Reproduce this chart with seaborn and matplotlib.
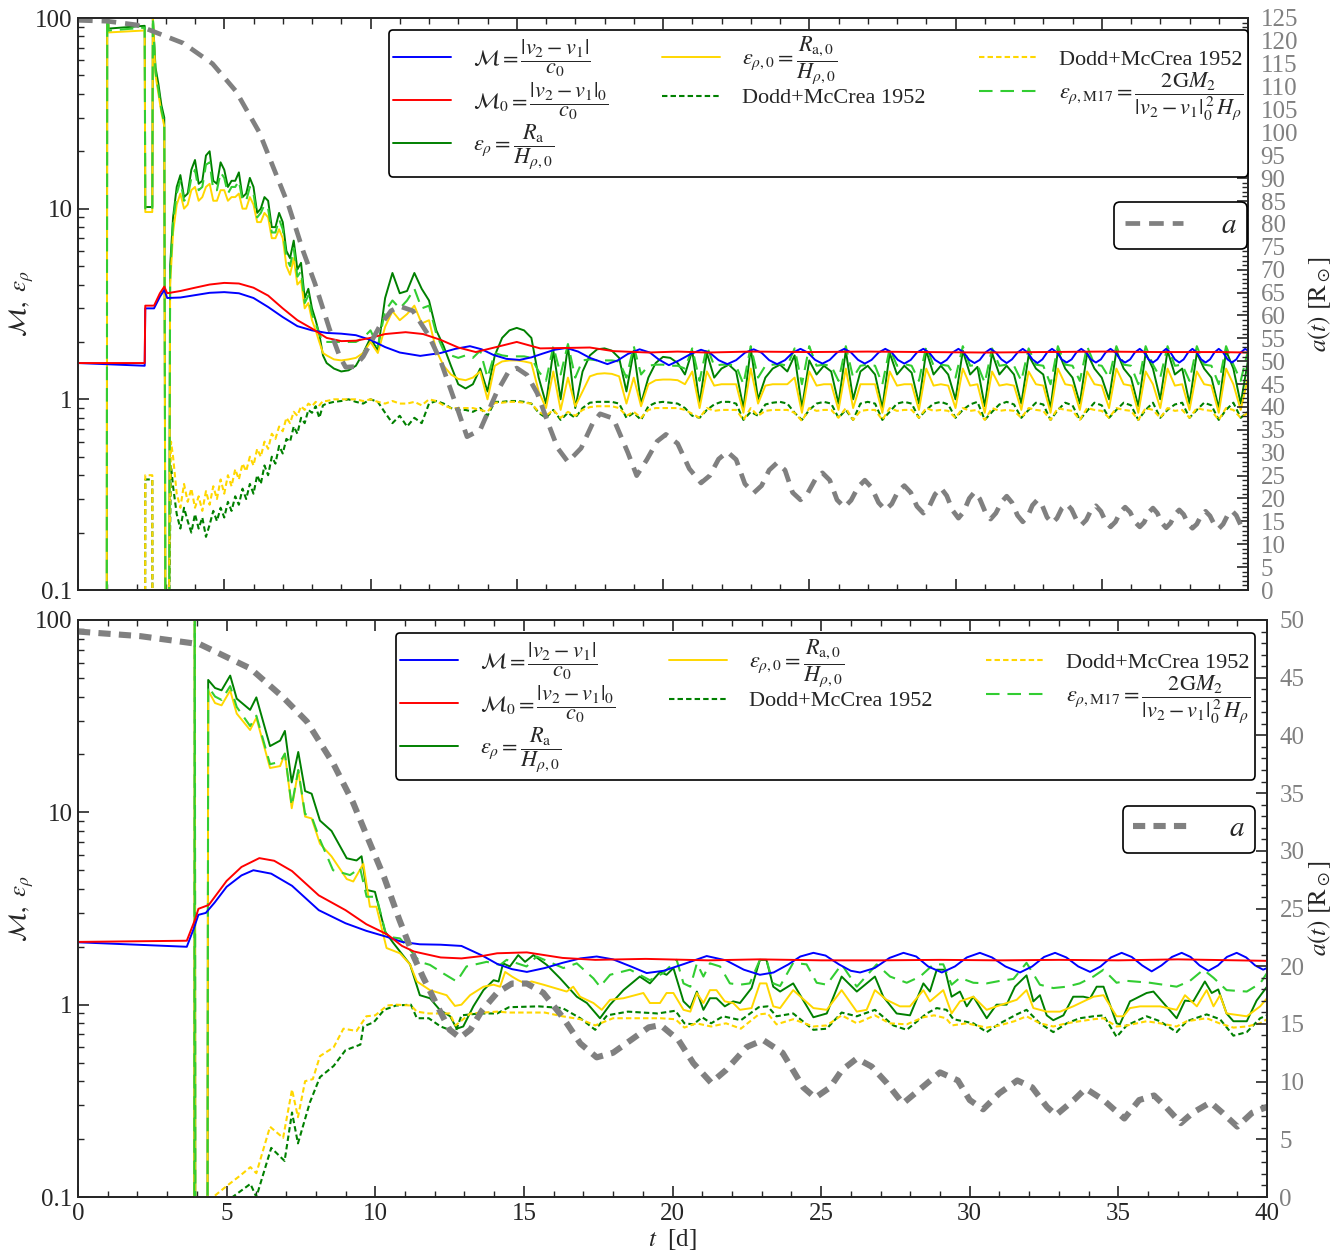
import numpy as np
import matplotlib
matplotlib.use("Agg")
import matplotlib.pyplot as plt
import seaborn as sns
from matplotlib.lines import Line2D
from matplotlib.ticker import MultipleLocator, LogLocator, NullFormatter

# ======================= DATA : TOP PANEL =======================
M_top_pts = [(0, 1.55), (2.28, 1.5), (2.3, 3.0), (2.6, 3.0), (2.8, 3.45), (2.95, 3.75), (3.05, 3.4),
             (3.5, 3.42), (4.0, 3.52), (4.5, 3.62), (5.0, 3.65), (5.5, 3.6), (6.0, 3.4), (6.5, 3.05),
             (7.0, 2.7), (7.5, 2.42), (8.0, 2.3), (8.5, 2.23), (9.0, 2.21), (9.5, 2.17), (10.0, 2.05),
             (10.5, 1.88), (11.0, 1.76), (11.7, 1.69), (12.4, 1.75), (12.9, 1.84), (13.4, 1.9),
             (13.8, 1.83), (14.2, 1.71), (14.65, 1.63), (15.1, 1.61), (15.5, 1.66), (15.9, 1.74),
             (16.3, 1.82), (16.7, 1.86), (17.1, 1.78), (17.5, 1.65), (18.1, 1.53), (18.45, 1.6),
             (18.8, 1.73), (19.2, 1.83), (19.55, 1.76), (19.85, 1.62), (20.2, 1.51), (20.55, 1.6),
             (20.95, 1.73), (21.3, 1.82),
             (21.6, 1.755), (21.9, 1.605), (22.2, 1.53), (22.5, 1.605), (22.8, 1.755), (23.1, 1.83),
             (23.37, 1.755), (23.63, 1.605), (23.9, 1.53), (24.17, 1.605), (24.43, 1.755), (24.7, 1.84),
             (24.95, 1.76), (25.2, 1.61), (25.45, 1.54), (25.7, 1.61), (25.95, 1.76), (26.2, 1.84),
             (26.43, 1.76), (26.67, 1.61), (26.9, 1.54), (27.13, 1.61), (27.37, 1.76), (27.6, 1.84),
             (27.82, 1.76), (28.03, 1.61), (28.25, 1.54), (28.47, 1.61), (28.68, 1.76), (28.9, 1.84),
             (29.1, 1.76), (29.3, 1.61), (29.5, 1.54), (29.7, 1.61), (29.9, 1.76), (30.1, 1.84),
             (30.28, 1.76), (30.47, 1.61), (30.65, 1.55), (30.83, 1.61), (31.02, 1.76), (31.2, 1.84),
             (31.38, 1.76), (31.57, 1.62), (31.75, 1.55), (31.93, 1.62), (32.12, 1.76), (32.3, 1.84),
             (32.47, 1.76), (32.63, 1.62), (32.8, 1.55), (32.97, 1.62), (33.13, 1.76), (33.3, 1.84),
             (33.47, 1.76), (33.63, 1.62), (33.8, 1.56), (33.97, 1.62), (34.13, 1.76), (34.3, 1.84),
             (34.47, 1.76), (34.63, 1.62), (34.8, 1.56), (34.97, 1.62), (35.13, 1.76), (35.3, 1.84),
             (35.47, 1.76), (35.63, 1.62), (35.8, 1.56), (35.97, 1.62), (36.13, 1.76), (36.3, 1.84),
             (36.45, 1.76), (36.6, 1.62), (36.75, 1.56), (36.9, 1.62), (37.05, 1.76), (37.2, 1.84),
             (37.35, 1.76), (37.5, 1.62), (37.65, 1.56), (37.8, 1.62), (37.95, 1.76), (38.1, 1.84),
             (38.25, 1.76), (38.4, 1.62), (38.55, 1.56), (38.7, 1.62), (38.85, 1.76), (39.0, 1.84),
             (39.15, 1.76), (39.3, 1.62), (39.45, 1.56), (39.6, 1.62), (39.75, 1.76), (39.9, 1.84),
             (40.0, 1.8)]
M0_top_pts = [(0, 1.55), (2.28, 1.55), (2.3, 3.1), (2.6, 3.1), (2.8, 3.6), (2.95, 3.9), (3.05, 3.6),
              (3.5, 3.7), (4.0, 3.85), (4.5, 4.0), (5.0, 4.08), (5.5, 4.05), (6.0, 3.85), (6.5, 3.5),
              (7.0, 3.0), (7.5, 2.6), (8.0, 2.35), (8.5, 2.1), (9.0, 2.02), (9.5, 2.03), (10.0, 2.1),
              (10.5, 2.2), (11.2, 2.25), (11.8, 2.2), (12.4, 2.05), (13.0, 1.87), (13.6, 1.77),
              (14.3, 1.88), (15.0, 2.0), (15.8, 1.85), (16.7, 1.86), (17.5, 1.87), (18.3, 1.79),
              (19.5, 1.76), (20.5, 1.78), (21.5, 1.76), (23, 1.78), (25, 1.77), (27, 1.78), (29, 1.77),
              (31, 1.76), (33, 1.77), (35, 1.78), (37, 1.77), (39, 1.77), (40, 1.76)]

# eps-type curves: early part (irregular times), dense part (0.125 d from 3.25 d),
# regular part (0.25 d from 8.5 d to 40 d)
eps_pre_t = [0, 0.98, 1.0, 1.04, 2.28, 2.30, 2.54, 2.56, 2.65, 2.75, 2.85, 2.95, 3.0, 3.1, 3.15]
eps_top_pre = [0.01, 0.01, 200, 88, 91, 10.2, 10.2, 100, 55, 45, 35, 30, 0.01, 0.01, 5]
eps0_top_pre = [0.01, 0.01, 200, 84, 86, 9.6, 9.6, 100, 50, 40, 32, 27, 0.01, 0.01, 4]
m17_top_pre = [0.01, 0.01, 200, 86, 89, 9.9, 9.9, 100, 52, 42, 33, 28, 0.01, 0.01, 4.5]
dodd_pre_t = [0, 2.29, 2.30, 2.54, 2.55, 3.0, 3.1, 3.18]
doddg_top_pre = [0.01, 0.01, 0.38, 0.38, 0.01, 0.01, 0.06, 0.45]
doddy_top_pre = [0.01, 0.01, 0.4, 0.4, 0.01, 0.01, 0.08, 0.6]

dense_start, dense_step = 3.25, 0.125
eps_top_d = [9, 13, 15, 11.5, 12, 16, 18, 13.5, 14, 19, 20, 14, 13.5, 17.5, 16, 13, 14, 14, 15.5, 11.5,
             12, 14.5, 13, 9.5, 10, 11.5, 11, 8, 8, 9.5, 8.5, 6, 5.5, 6.8, 4.8, 5.2, 3.4, 3.8, 3.0, 2.6,
             2.2, 1.7]
eps0_top_d = [7.5, 10.5, 12, 10, 10.5, 12.5, 13, 11, 11.5, 13, 13.5, 11, 11, 12.5, 12.5, 11, 11.5, 11.5, 12, 10,
              10, 11.5, 10.5, 8.5, 8.5, 9.5, 9, 7, 7, 7.8, 7, 5, 4.5, 5.5, 4.0, 4.2, 3.0, 3.2, 2.6, 2.3,
              2.0, 1.75]
m17_top_d = [8.5, 12, 14, 11, 11.5, 14.5, 16, 12.5, 13, 17, 17.5, 12.5, 12.5, 15.5, 14.5, 12, 13, 13, 14, 11,
             11, 13, 12, 9, 9.5, 10.5, 10, 7.5, 7.5, 8.8, 7.8, 5.5, 5.0, 6.2, 4.4, 4.7, 3.2, 3.5, 2.8, 2.5,
             2.2, 2.0]
doddg_top_d = [0.35, 0.25, 0.21, 0.27, 0.23, 0.2, 0.25, 0.21, 0.24, 0.19, 0.22, 0.26, 0.23, 0.27, 0.24, 0.29,
               0.26, 0.31, 0.28, 0.34, 0.3, 0.36, 0.32, 0.4, 0.36, 0.45, 0.4, 0.5, 0.46, 0.57, 0.52, 0.62,
               0.6, 0.72, 0.66, 0.8, 0.75, 0.88, 0.85, 0.92, 0.8, 0.93]
doddy_top_d = [0.5, 0.32, 0.27, 0.36, 0.29, 0.34, 0.27, 0.31, 0.26, 0.33, 0.28, 0.35, 0.3, 0.38, 0.32, 0.4,
               0.35, 0.43, 0.38, 0.46, 0.42, 0.5, 0.45, 0.55, 0.5, 0.6, 0.55, 0.66, 0.62, 0.72, 0.68, 0.8,
               0.75, 0.86, 0.82, 0.92, 0.88, 0.95, 0.92, 0.97, 0.93, 0.98]

grid_start, grid_step = 8.5, 0.25
eps_top = [1.55, 1.45, 1.40,
           1.42, 1.5, 1.75, 2.1, 1.8, 3.4, 4.6, 3.6,
           3.7, 4.6, 3.8, 3.3, 2.3, 1.9, 1.5, 1.2,
           1.14, 1.2, 1.45, 1.1, 1.7, 2.1, 2.3, 2.37,
           2.3, 2.1, 1.3, 0.95, 1.8, 1.0, 1.9, 0.9,
           1.4, 1.7, 1.83, 1.85, 1.8, 1.65, 1.1, 1.8,
           0.95, 1.3, 1.55, 1.67, 1.65, 1.55, 1.35, 1.8,
           0.95, 1.75, 1.3, 1.45, 1.52, 1.4, 0.9, 1.85,
           1.0, 1.3, 1.45, 1.52, 1.4, 1.7, 0.9, 1.6,
           1.35, 1.5, 1.4, 0.95, 1.8, 1.0, 1.4, 1.5,
           1.35, 0.9, 1.75, 1.35, 1.5, 1.38, 0.95, 1.8,
           1.35, 1.5, 1.35, 1.0, 1.8, 1.35, 1.48, 0.92,
           1.75, 1.35, 1.5, 1.35, 0.95, 1.7, 1.45, 1.35,
           0.9, 1.8, 1.45, 1.3, 0.95, 1.75, 1.45, 1.3,
           1.0, 1.8, 1.45, 1.3, 0.92, 1.75, 1.45, 1.0,
           1.8, 1.35, 1.45, 0.95, 1.75, 1.45, 1.3, 0.9,
           1.8, 1.45, 0.95, 1.6]
eps0_top = [1.7, 1.62, 1.6,
            1.62, 1.65, 1.75, 2.0, 1.75, 2.4, 2.9, 2.6,
            2.8, 3.1, 2.5, 2.6, 1.8, 1.5, 1.35, 1.28,
            1.26, 1.3, 1.4, 1.0, 1.5, 1.58, 1.6, 1.6,
            1.58, 1.55, 1.1, 0.9, 1.4, 0.88, 1.3, 0.92,
            1.1, 1.32, 1.36, 1.37, 1.36, 1.32, 0.95, 1.3,
            0.92, 1.2, 1.26, 1.27, 1.27, 1.26, 1.2, 1.4,
            0.9, 1.4, 1.18, 1.2, 1.2, 1.2, 0.85, 1.45,
            0.95, 1.18, 1.2, 1.2, 1.2, 1.3, 0.85, 1.4,
            1.18, 1.2, 1.2, 0.88, 1.45, 0.9, 1.2, 1.2,
            1.2, 0.85, 1.4, 1.18, 1.2, 1.2, 0.88, 1.45,
            1.18, 1.2, 1.18, 0.9, 1.45, 1.18, 1.2, 0.85,
            1.4, 1.18, 1.2, 1.18, 0.88, 1.4, 1.2, 1.18,
            0.85, 1.45, 1.2, 1.18, 0.88, 1.4, 1.2, 1.18,
            0.9, 1.45, 1.2, 1.18, 0.85, 1.4, 1.2, 0.9,
            1.45, 1.18, 1.2, 0.88, 1.4, 1.2, 1.18, 0.85,
            1.45, 1.2, 0.88, 1.3]
m17_top = [2.0, 2.0, 2.0,
           2.0, 2.0, 2.1, 2.3, 1.9, 2.9, 3.3, 3.0,
           3.3, 3.8, 3.0, 3.1, 2.2, 1.8, 1.7, 1.65,
           1.7, 1.65, 1.8, 1.3, 1.75, 1.7, 1.68, 1.68,
           1.68, 1.65, 1.4, 1.25, 1.9, 1.35, 1.95, 1.3,
           1.6, 1.62, 1.6, 1.6, 1.6, 1.58, 1.3, 1.9,
           1.35, 1.5, 1.52, 1.52, 1.5, 1.5, 1.45, 1.85,
           1.25, 1.9, 1.5, 1.52, 1.52, 1.5, 1.2, 1.9,
           1.3, 1.5, 1.52, 1.53, 1.5, 1.85, 1.2, 1.9,
           1.5, 1.52, 1.5, 1.25, 1.9, 1.3, 1.5, 1.52,
           1.5, 1.2, 1.85, 1.5, 1.53, 1.5, 1.25, 1.9,
           1.5, 1.52, 1.5, 1.3, 1.9, 1.5, 1.52, 1.22,
           1.85, 1.5, 1.52, 1.5, 1.25, 1.85, 1.52, 1.5,
           1.2, 1.9, 1.52, 1.5, 1.25, 1.9, 1.52, 1.5,
           1.3, 1.9, 1.52, 1.5, 1.2, 1.9, 1.52, 1.3,
           1.9, 1.5, 1.52, 1.25, 1.9, 1.52, 1.5, 1.2,
           1.9, 1.52, 1.25, 1.8]
doddg_top = [0.95, 0.97, 0.98,
             1.0, 0.97, 0.95, 1.0, 0.97, 0.85, 0.75, 0.82,
             0.72, 0.8, 0.75, 0.95, 0.98, 0.95, 0.9, 0.88,
             0.88, 0.86, 0.9, 0.82, 0.97, 0.97, 0.98, 0.98,
             0.97, 0.95, 0.85, 0.8, 0.88, 0.78, 0.85, 0.8,
             0.9, 0.96, 0.97, 0.97, 0.97, 0.95, 0.8, 0.85,
             0.78, 0.92, 0.96, 0.97, 0.96, 0.95, 0.9, 0.82,
             0.8, 0.88, 0.94, 0.97, 0.97, 0.95, 0.78, 0.86,
             0.82, 0.94, 0.96, 0.97, 0.95, 0.85, 0.78, 0.88,
             0.95, 0.97, 0.95, 0.8, 0.88, 0.78, 0.95, 0.97,
             0.95, 0.78, 0.86, 0.95, 0.97, 0.95, 0.8, 0.88,
             0.95, 0.97, 0.94, 0.8, 0.88, 0.94, 0.97, 0.78,
             0.86, 0.94, 0.97, 0.94, 0.8, 0.88, 0.96, 0.94,
             0.78, 0.88, 0.96, 0.93, 0.78, 0.87, 0.96, 0.93,
             0.8, 0.88, 0.96, 0.93, 0.78, 0.88, 0.96, 0.8,
             0.88, 0.94, 0.96, 0.8, 0.88, 0.96, 0.93, 0.78,
             0.88, 0.96, 0.8, 0.86]
doddy_top = [0.98, 1.0, 1.0,
             1.0, 1.0, 0.98, 1.0, 0.97, 0.95, 0.98, 0.95,
             0.95, 0.97, 0.93, 1.0, 0.98, 0.93, 0.9, 0.9,
             0.9, 0.9, 0.88, 0.86, 0.96, 0.96, 0.97, 0.97,
             0.96, 0.95, 0.86, 0.82, 0.88, 0.8, 0.86, 0.82,
             0.88, 0.91, 0.92, 0.92, 0.92, 0.9, 0.82, 0.86,
             0.8, 0.88, 0.9, 0.9, 0.9, 0.9, 0.88, 0.84,
             0.8, 0.9, 0.87, 0.88, 0.88, 0.88, 0.78, 0.9,
             0.82, 0.87, 0.88, 0.88, 0.88, 0.85, 0.77, 0.9,
             0.87, 0.88, 0.88, 0.8, 0.9, 0.78, 0.87, 0.88,
             0.88, 0.78, 0.9, 0.87, 0.88, 0.88, 0.8, 0.9,
             0.87, 0.88, 0.87, 0.8, 0.9, 0.87, 0.88, 0.78,
             0.9, 0.87, 0.88, 0.87, 0.8, 0.9, 0.88, 0.87,
             0.78, 0.9, 0.88, 0.87, 0.78, 0.9, 0.88, 0.87,
             0.8, 0.9, 0.88, 0.87, 0.78, 0.9, 0.88, 0.8,
             0.9, 0.87, 0.88, 0.8, 0.9, 0.88, 0.87, 0.78,
             0.9, 0.88, 0.8, 0.85]

a_top_pts = [(0, 124.5), (1, 124.3), (2, 123.5), (2.6, 122), (3.6, 119.5), (4.6, 115), (5.4, 109),
             (6.2, 100), (6.7, 92), (7.2, 84), (7.7, 74), (8.1, 67), (8.6, 57), (8.95, 51), (9.15, 48.7),
             (9.45, 48.8), (9.75, 51), (10.3, 57.5), (10.7, 61), (11.0, 62), (11.45, 61), (12.0, 55.5),
             (12.4, 50), (12.95, 40), (13.3, 33.5), (13.75, 35), (14.3, 43), (14.7, 47.5), (15.0, 48.5),
             (15.35, 47), (15.7, 43), (16.1, 36), (16.4, 31), (16.75, 28), (17.2, 31), (17.6, 36.5),
             (17.85, 38.5), (18.3, 37.5), (18.8, 30), (19.1, 25), (19.45, 28.5), (19.8, 32.5),
             (20.1, 34), (20.5, 32), (20.9, 26.5), (21.3, 23.4),
             (21.6, 25.0), (21.9, 28.6), (22.2, 30.2), (22.5, 28.5), (22.8, 23.2), (23.1, 21.2),
             (23.37, 22.8), (23.63, 26.2), (23.9, 27.8), (24.17, 26.2), (24.43, 21.3), (24.7, 19.7),
             (24.95, 21.2), (25.2, 24.1), (25.45, 25.6), (25.7, 24.0), (25.95, 19.7), (26.2, 18.1),
             (26.43, 19.6), (26.67, 22.5), (26.9, 24.0), (27.13, 22.4), (27.37, 19.1), (27.6, 17.5),
             (27.82, 18.8), (28.03, 21.5), (28.25, 22.8), (28.47, 21.3), (28.68, 18.3), (28.9, 16.8),
             (29.1, 18.2), (29.3, 20.9), (29.5, 22.3), (29.7, 20.6), (29.9, 17.4), (30.1, 15.7),
             (30.28, 17.1), (30.47, 20.0), (30.65, 21.4), (30.83, 19.9), (31.02, 17.0), (31.2, 15.5),
             (31.38, 16.8), (31.57, 19.2), (31.75, 20.5), (31.93, 19.1), (32.12, 16.3), (32.3, 14.9),
             (32.47, 16.1), (32.63, 18.5), (32.8, 19.7), (32.97, 18.4), (33.13, 15.9), (33.3, 14.6),
             (33.47, 15.7), (33.63, 17.8), (33.8, 18.8), (33.97, 17.6), (34.13, 15.4), (34.3, 14.2),
             (34.47, 15.3), (34.63, 17.4), (34.8, 18.4), (34.97, 17.2), (35.13, 15.0), (35.3, 13.8),
             (35.47, 14.9), (35.63, 17.0), (35.8, 18.1), (35.97, 17.0), (36.13, 14.9), (36.3, 13.8),
             (36.45, 14.8), (36.6, 16.9), (36.75, 17.9), (36.9, 16.8), (37.05, 14.7), (37.2, 13.6),
             (37.35, 14.6), (37.5, 16.5), (37.65, 17.5), (37.8, 16.5), (37.95, 14.5), (38.1, 13.5),
             (38.25, 14.4), (38.4, 16.3), (38.55, 17.2), (38.7, 16.2), (38.85, 14.3), (39.0, 13.4),
             (39.15, 14.4), (39.3, 16.3), (39.45, 17.3), (39.6, 16.3), (39.75, 14.2), (39.9, 13.2),
             (40.0, 13.4)]

# ======================= DATA : BOTTOM PANEL =======================
M_bot_t = [0, 3.66, 3.9, 4.05, 4.3, 4.6, 5.0, 5.5, 5.9, 6.5, 7.2, 8.1, 9.0, 9.7, 10.4, 10.9, 11.5, 12.2,
           12.9, 13.6, 14.1, 14.6, 15.1, 15.7, 16.3, 16.9, 17.45, 18.0, 18.6, 19.13, 19.7, 20.4, 21.15,
           21.8, 22.4, 22.94, 23.4, 23.9, 24.3, 24.74, 25.15, 25.6, 26.0, 26.31, 26.8, 27.3, 27.77,
           28.2, 28.6, 29.06, 29.5, 29.9, 30.34, 30.75, 31.2, 31.69, 32.1, 32.5, 32.87, 33.25, 33.65,
           34.05, 34.4, 34.75, 35.11, 35.45, 35.8, 36.12, 36.45, 36.8, 37.13, 37.43, 37.73, 38.03,
           38.35, 38.65, 38.98, 39.3, 39.6, 39.87, 40.0]
M_bot = [2.11, 2.0, 2.5, 2.93, 3.0, 3.4, 4.1, 4.7, 5.0, 4.8, 4.15, 3.1, 2.65, 2.42, 2.25, 2.12, 2.06, 2.05,
         2.02, 1.8, 1.63, 1.53, 1.48, 1.55, 1.65, 1.74, 1.78, 1.72, 1.58, 1.46, 1.5, 1.63, 1.79,
         1.7, 1.52, 1.43, 1.47, 1.62, 1.78, 1.86, 1.8, 1.62, 1.5, 1.47, 1.55, 1.75, 1.86,
         1.78, 1.58, 1.47, 1.58, 1.76, 1.86, 1.76, 1.58, 1.47, 1.58, 1.77, 1.86, 1.76, 1.58,
         1.48, 1.58, 1.76, 1.86, 1.77, 1.6, 1.49, 1.6, 1.77, 1.86, 1.77, 1.6, 1.5,
         1.6, 1.77, 1.86, 1.76, 1.6, 1.52, 1.55]
M0_bot_t = [0, 3.66, 3.95, 4.05, 4.4, 5.0, 5.5, 6.1, 6.6, 7.2, 8.1, 9.0, 9.7, 10.4, 10.9, 11.3, 12.2, 12.9,
            13.6, 14.1, 15.1, 16.3, 17.4, 19.1, 21.2, 22.9, 25, 27, 29, 31, 33, 35, 37, 39, 40]
M0_bot = [2.12, 2.15, 2.8, 3.15, 3.3, 4.4, 5.2, 5.78, 5.6, 4.95, 3.7, 3.1, 2.62, 2.32, 2.02, 1.89, 1.76, 1.74,
          1.79, 1.85, 1.87, 1.75, 1.71, 1.73, 1.7, 1.72, 1.7, 1.7, 1.71, 1.7, 1.71, 1.7, 1.72, 1.7, 1.69]

eps_bot_t = [0, 3.91, 3.93, 3.95, 4.35, 4.38, 4.61, 4.83, 5.12, 5.34, 5.79, 6.0, 6.46, 6.8, 6.96, 7.19, 7.41,
             7.64, 7.86, 8.14, 8.53, 9.04, 9.37, 9.54, 9.71, 9.99, 10.33, 10.6, 11.17, 11.5, 11.84, 12.17,
             12.52, 12.74, 12.96, 13.3, 13.64, 13.98, 14.15, 14.3, 14.53, 14.81, 15.04, 15.32, 15.77, 16.22,
             16.78, 17.12, 17.56, 17.9, 18.35, 18.9, 19.24, 19.58, 19.8, 20.03, 20.37, 20.6, 20.82, 21.04,
             21.26, 21.48, 21.76, 22.04, 22.27, 22.66, 22.94, 23.16, 23.39, 23.62, 24.06, 24.74, 25.19,
             25.69, 26.2, 26.81, 27.09, 27.54, 27.99, 28.44, 28.66, 28.89, 29.17, 29.39, 29.67, 29.9,
             30.12, 30.57, 30.9, 31.24, 31.52, 31.91, 32.14, 32.36, 32.59, 32.81, 33.15, 33.48, 33.82,
             34.05, 34.27, 34.5, 34.94, 35.05, 35.39, 35.95, 36.18, 36.96, 37.24, 37.52, 37.91, 38.14,
             38.36, 38.64, 38.87, 39.32, 39.65, 40.0]
eps_bot = [0.01, 0.01, 300, 0.01, 0.01, 48.8, 44.3, 43.1, 51.4, 39.0, 34.1, 39.6, 22.1, 23.6, 26.5, 14.3, 20.6,
           12.9, 12.5, 9.06, 8.0, 5.77, 5.62, 5.91, 3.95, 3.86, 2.4, 2.1, 1.62, 1.12, 1.08, 0.94,
           0.87, 0.75, 0.77, 0.98, 1.19, 1.34, 1.32, 1.64, 1.58, 1.81, 1.67, 1.81, 1.61, 1.37,
           1.10, 1.02, 0.85, 1.0, 1.19, 1.4, 1.29, 1.48, 1.43, 1.55, 1.04, 0.96, 1.17, 0.94,
           1.08, 1.08, 0.98, 1.04, 1.02, 1.22, 1.71, 1.71, 1.24, 1.17, 1.29, 0.86, 0.90,
           1.40, 1.17, 1.40, 1.10, 0.90, 0.88, 1.29, 1.17, 1.52, 1.52, 1.10, 1.17, 0.98,
           1.10, 0.85, 1.0, 1.0, 1.24, 1.42, 1.04, 1.12, 0.88, 0.83, 0.88, 1.10, 1.10,
           1.08, 1.24, 1.24, 0.80, 0.79, 1.04, 1.15, 1.17, 0.85, 1.05, 1.04, 1.32, 1.15,
           1.2, 0.9, 0.82, 0.82, 1.05, 1.24]
eps0_bot_t = [0, 3.91, 3.93, 3.95, 4.35, 4.38, 4.61, 4.83, 5.12, 5.34, 5.79, 6.0, 6.46, 6.8, 6.96, 7.19, 7.41,
              7.64, 7.86, 8.14, 8.53, 9.04, 9.26, 9.6, 9.82, 10.04, 10.38, 10.83, 11.17, 11.4, 11.84, 12.4,
              12.68, 12.9, 13.19, 13.64, 13.98, 14.2, 14.37, 14.6, 14.81, 15.04, 15.26, 15.66, 16.44, 16.66,
              16.89, 17.34, 17.62, 17.9, 18.35, 19.02, 19.24, 19.58, 19.8, 20.03, 20.37, 20.6, 20.82, 21.04,
              21.26, 21.48, 21.76, 22.04, 22.27, 22.66, 22.94, 23.16, 23.39, 23.62, 24.06, 24.74, 25.19,
              25.69, 26.2, 26.53, 26.81, 27.2, 27.65, 27.99, 28.44, 28.66, 29.11, 29.39, 29.67, 30.12,
              30.57, 30.9, 31.58, 31.91, 32.14, 32.59, 33.04, 33.48, 34.16, 34.5, 34.94, 35.17, 35.39,
              35.73, 36.4, 36.96, 37.24, 37.64, 37.97, 38.2, 38.42, 38.64, 39.32, 39.77, 40.0]
eps0_bot = [0.01, 0.01, 300, 0.01, 0.01, 43, 37, 36, 43, 32.6, 26.8, 31, 17.0, 17.4, 20.2, 10.5, 16.5,
            9.5, 9.3, 6.87, 5.9, 4.5, 4.37, 5.4, 3.23, 3.23, 1.97, 1.85, 1.62, 1.32, 1.19, 1.12,
            0.985, 1.0, 1.12, 1.24, 1.27, 1.24, 1.48, 1.40, 1.34, 1.29, 1.32, 1.27, 1.17, 1.24,
            1.10, 1.02, 0.94, 1.06, 1.08, 1.15, 1.02, 1.02, 1.15, 1.15, 0.94, 0.92, 1.15, 1.02,
            1.19, 1.19, 1.04, 1.02, 0.94, 0.96, 1.29, 1.29, 0.98, 0.96, 1.19, 0.96, 0.94,
            1.19, 0.92, 0.94, 1.19, 1.06, 0.98, 0.98, 1.19, 1.04, 1.19, 0.90, 1.04, 1.10,
            0.94, 0.98, 1.06, 1.19, 0.96, 0.92, 0.92, 0.98, 1.10, 1.12, 0.87, 0.87, 0.96,
            0.98, 0.98, 0.94, 1.12, 0.98, 1.19, 0.98, 1.12, 0.90, 0.87, 0.98, 1.08]
m17_bot_t = [0, 3.91, 3.93, 3.95, 4.35, 4.38, 4.61, 4.83, 5.12, 5.34, 5.79, 6.0, 6.46, 6.8, 6.96, 7.19, 7.41,
             7.64, 7.86, 8.14, 8.58, 9.15, 9.49, 9.71, 10.04, 10.38, 10.83, 11.17, 11.5, 11.84, 12.3,
             12.74, 13.07, 13.75, 14.2, 14.42, 15.09, 15.43, 16.33, 16.78, 17.34, 17.56, 17.9, 18.57,
             19.24, 19.69, 20.14, 20.37, 20.6, 20.82, 21.04, 21.26, 21.6, 21.93, 22.27, 22.6, 22.94,
             23.16, 23.39, 23.62, 24.06, 24.51, 24.85, 25.19, 25.69, 26.2, 26.87, 27.32, 27.88, 28.33,
             28.78, 29.11, 29.39, 29.67, 30.12, 30.57, 31.02, 31.47, 31.91, 32.36, 32.81, 33.26, 33.7,
             34.16, 34.5, 34.94, 35.28, 36.06, 36.96, 37.41, 37.86, 38.2, 38.64, 39.32, 39.77, 40.0]
m17_bot = [0.01, 0.01, 300, 0.01, 0.01, 45, 40, 38.4, 45.3, 35.3, 28.1, 31.8, 17.8, 18.3, 20.2, 10.8, 16.6,
           9.8, 9.5, 7.2, 5.0, 4.72, 5.13, 3.64, 3.64, 2.26, 2.21, 1.93, 1.67, 1.61, 1.45,
           1.32, 1.58, 1.67, 1.61, 1.71, 1.58, 1.78, 1.55, 1.64, 1.37, 1.24, 1.43, 1.52,
           1.34, 1.46, 1.71, 1.29, 1.24, 1.64, 1.40, 1.64, 1.58, 1.29, 1.27, 1.29, 1.71,
           1.71, 1.29, 1.25, 1.65, 1.62, 1.30, 1.27, 1.62, 1.24, 1.62, 1.40, 1.30, 1.40,
           1.62, 1.62, 1.27, 1.38, 1.30, 1.29, 1.33, 1.36, 1.65, 1.27, 1.22, 1.24, 1.29,
           1.40, 1.52, 1.30, 1.33, 1.30, 1.24, 1.33, 1.52, 1.38, 1.19, 1.17, 1.29, 1.46]
doddg_bot_t = [0, 4.4, 5.0, 5.2, 5.8, 6.0, 6.5, 6.95, 7.2, 7.4, 7.8, 8.14, 8.6, 9.0, 9.5, 9.6, 9.95, 10.3,
               10.7, 11.2, 11.4, 11.8, 12.2, 12.7, 12.9, 13.5, 14.1, 14.5, 15.5, 16.3, 16.9, 17.4, 17.8,
               18.5, 19.5, 20.1, 20.4, 20.7, 21.0, 21.3, 21.7, 22.3, 22.9, 23.2, 23.5, 24.06, 24.74,
               25.19, 25.69, 26.2, 26.81, 27.43, 27.88, 28.55, 28.89, 29.22, 29.45, 30.12, 30.57,
               31.02, 31.58, 31.91, 32.36, 32.81, 33.26, 33.7, 34.16, 34.5, 34.94, 35.28, 35.95,
               36.4, 36.96, 37.3, 37.97, 38.42, 38.87, 39.32, 39.77, 40.0]
doddg_bot = [0.01, 0.05, 0.085, 0.1, 0.117, 0.1, 0.18, 0.154, 0.275, 0.19, 0.31, 0.42, 0.48, 0.58, 0.62,
             0.77, 0.81, 0.94, 0.99, 1.0, 0.85, 0.85, 0.77, 0.72, 0.88, 0.9, 0.9, 0.97, 0.98, 0.96,
             0.85, 0.74, 0.88, 0.92, 0.9, 0.93, 0.8, 0.79, 0.86, 0.8, 0.87, 0.83, 0.97, 0.98, 0.87,
             0.9, 0.74, 0.75, 0.91, 0.87, 0.94, 0.78, 0.74, 0.9, 0.96, 0.94, 0.84, 0.8, 0.72, 0.8,
             0.89, 0.94, 0.8, 0.72, 0.8, 0.85, 0.87, 0.88, 0.68, 0.78, 0.87, 0.82, 0.72, 0.82,
             0.89, 0.84, 0.69, 0.72, 0.85, 0.88]
doddy_bot_t = [0, 4.4, 4.55, 5.0, 5.45, 5.8, 6.0, 6.46, 6.9, 7.2, 7.4, 7.64, 7.9, 8.14, 8.6, 8.93, 9.37,
               9.7, 10.0, 10.4, 10.7, 11.2, 11.4, 11.8, 12.5, 12.7, 13.2, 14.1, 14.5, 15.7, 16.3, 16.9,
               17.4, 18.0, 19.6, 20.1, 20.4, 20.8, 21.3, 21.8, 22.3, 22.9, 23.2, 23.5, 24.06, 24.74,
               25.19, 25.69, 26.2, 26.81, 27.3, 27.88, 28.44, 28.8, 29.2, 29.4, 29.9, 30.57, 31.0,
               31.5, 31.91, 32.36, 32.81, 33.26, 33.7, 34.16, 34.5, 34.94, 35.3, 35.95, 36.4, 36.96,
               37.3, 37.97, 38.4, 38.87, 39.32, 39.77, 40.0]
doddy_bot = [0.01, 0.08, 0.1, 0.114, 0.129, 0.143, 0.133, 0.232, 0.203, 0.362, 0.26, 0.4, 0.41, 0.54, 0.6,
             0.75, 0.73, 0.87, 0.88, 0.99, 1.0, 0.99, 0.92, 0.9, 0.9, 0.78, 0.9, 0.92, 0.91, 0.91,
             0.87, 0.84, 0.78, 0.85, 0.85, 0.84, 0.76, 0.8, 0.77, 0.8, 0.75, 0.89, 0.9, 0.79, 0.84,
             0.77, 0.78, 0.88, 0.8, 0.88, 0.8, 0.79, 0.86, 0.88, 0.85, 0.78, 0.8, 0.76, 0.78, 0.82,
             0.87, 0.8, 0.77, 0.8, 0.82, 0.84, 0.85, 0.77, 0.78, 0.82, 0.8, 0.77, 0.82, 0.85, 0.8,
             0.76, 0.77, 0.8, 0.84]
a_bot_t = [0, 2.1, 4.1, 5.8, 6.9, 7.7, 8.6, 9.25, 9.7, 10.3, 10.8, 11.3, 11.6, 12.1, 12.5, 12.85, 13.2,
           13.6, 14.1, 14.6, 15.1, 15.65, 16.3, 16.9, 17.45, 18.0, 18.6, 19.2, 19.6, 20.2, 20.7, 21.3,
           21.8, 22.5, 23.05, 23.7, 24.4, 24.8, 25.3, 25.7, 26.2, 26.7, 27.2, 27.75, 28.4, 29.0, 29.6,
           30.0, 30.45, 31.0, 31.6, 32.1, 32.6, 32.9, 33.5, 33.9, 34.5, 35.2, 35.7, 36.2, 36.6, 37.1,
           37.5, 38.1, 38.5, 39.0, 39.5, 40.0]
a_bot = [49.0, 48.6, 47.9, 45.8, 43.3, 41.2, 37.5, 34.2, 31.4, 27.7, 24.1, 20.8, 19.1, 16.5, 14.5, 13.8, 14.5,
         16.2, 17.7, 18.5, 18.5, 17.7, 15.6, 13.3, 12.1, 12.5, 13.6, 14.7, 14.9, 13.6, 11.6, 9.9,
         11.0, 13.0, 13.6, 12.5, 9.5, 8.6, 9.5, 11.0, 12.0, 11.3, 9.9, 8.1, 9.5, 10.8, 10.1,
         8.4, 7.6, 9.0, 10.1, 9.5, 7.8, 7.1, 8.4, 9.4, 8.4, 6.8, 8.4, 8.8, 7.8, 6.4,
         7.3, 8.2, 7.3, 6.1, 7.3, 7.8]

labels = [r'$\mathcal{M} = \dfrac{|v_2 - v_1|}{c_0}$',
          r'$\mathcal{M}_0 = \dfrac{|v_2 - v_1|_0}{c_0}$',
          r'$\varepsilon_\rho = \dfrac{R_\mathrm{a}}{H_{\rho,0}}$',
          r'$\varepsilon_{\rho,0} = \dfrac{R_\mathrm{a,0}}{H_{\rho,0}}$',
          'Dodd+McCrea 1952',
          'Dodd+McCrea 1952',
          r'$\varepsilon_{\rho,\mathrm{M17}} = \dfrac{2\mathrm{G}M_2}{|v_2 - v_1|_0^{\,2}\,H_\rho}$']

# ======================= STYLE =======================
sns.set_style("ticks")
plt.rcParams["font.family"] = ["Liberation Serif", "DejaVu Serif"]
plt.rcParams["mathtext.fontset"] = "stix"
plt.rcParams["axes.linewidth"] = 1.3

C_BLUE, C_RED = "#0000ff", "#ff0000"
C_DG, C_YEL, C_LG, C_GRAY = "#008000", "#ffd700", "#32cd32", "#808080"
LS_DODD = (0, (2.6, 1.5))
LS_M17 = (0, (6.5, 3.8))

W, H = 1343, 1259
fig = plt.figure(figsize=(W / 100, H / 100), dpi=100)
ax_t = fig.add_axes([78 / W, 1 - 590 / H, 1170 / W, 572 / H])
ax_b = fig.add_axes([78 / W, 1 - 1197 / H, 1189 / W, 577 / H])


def draw(ax, t, v, color, lw=1.4, ls="-", z=2):
    sns.lineplot(x=np.asarray(t, float), y=np.asarray(v, float), ax=ax, color=color,
                 linewidth=lw, linestyle=ls, estimator=None, sort=False, legend=False, zorder=z)
    return ax.lines[-1]


def unzip(pts):
    return [p[0] for p in pts], [p[1] for p in pts]


def times(start, step, n):
    return [start + step * i for i in range(n)]


def panel(ax, d, amax, a_lw, a_ls, leg_anchor, leg2_anchor, lab_x, show_x):
    ax2 = ax.twinx()
    hs = []
    hs.append(draw(ax, d["M_t"], d["M"], C_BLUE, z=4))
    hs.append(draw(ax, d["M0_t"], d["M0"], C_RED, z=4))
    hs.append(draw(ax, d["eps_t"], d["eps"], C_DG))
    hs.append(draw(ax, d["eps0_t"], d["eps0"], C_YEL))
    hs.append(draw(ax, d["dg_t"], d["dg"], C_DG, lw=1.5, ls=LS_DODD))
    hs.append(draw(ax, d["dy_t"], d["dy"], C_YEL, lw=1.5, ls=LS_DODD))
    hs.append(draw(ax, d["m17_t"], d["m17"], C_LG, lw=1.5, ls=LS_M17, z=3))
    sns.lineplot(x=np.asarray(d["a_t"], float), y=np.asarray(d["a"], float), ax=ax2, color=C_GRAY,
                 linewidth=a_lw, linestyle=a_ls, estimator=None, sort=False, legend=False)

    ax.set_xlim(0, 40)
    ax.set_yscale("log")
    ax.set_ylim(0.1, 100)
    ax.set_yticks([0.1, 1, 10, 100])
    ax.set_yticklabels(["0.1", "1", "10", "100"])
    ax.yaxis.set_minor_locator(LogLocator(base=10, subs=np.arange(2, 10)))
    ax.yaxis.set_minor_formatter(NullFormatter())
    ax.xaxis.set_major_locator(MultipleLocator(5))
    ax.xaxis.set_minor_locator(MultipleLocator(1))
    ax.tick_params(which="both", direction="in", top=True, bottom=True, left=True, right=False,
                   labelsize=18, pad=4)
    ax.tick_params(which="major", length=8, width=1.2)
    ax.tick_params(which="minor", length=4, width=1.0)
    ax.tick_params(axis="x", labelbottom=show_x)
    ax.set_xlabel("")
    ax.set_ylabel(r"$\mathcal{M},\ \varepsilon_\rho$", fontsize=18)
    ax.yaxis.set_label_coords(lab_x[0], 0.5)

    ax2.set_ylim(0, amax)
    ax2.yaxis.set_major_locator(MultipleLocator(5))
    ax2.yaxis.set_minor_locator(MultipleLocator(1))
    ax2.tick_params(which="both", direction="in", right=True, left=False, labelsize=18,
                    labelcolor=C_GRAY, pad=9)
    ax2.tick_params(which="major", length=8, width=1.2)
    ax2.tick_params(which="minor", length=4, width=1.0)
    ax2.set_ylabel(r"$a(t)\ [\mathrm{R}_\odot]$", fontsize=18)
    ax2.yaxis.set_label_coords(lab_x[1], 0.5)
    ax2.set_xlim(0, 40)

    leg = ax2.legend(hs, labels, ncol=3, loc="upper right", bbox_to_anchor=leg_anchor,
                     borderaxespad=0, fontsize=16, handlelength=2.6, handletextpad=1.0,
                     columnspacing=2.4, labelspacing=0.05, borderpad=0.2, frameon=True,
                     fancybox=True, framealpha=1, edgecolor="black")
    leg.get_frame().set_linewidth(1.2)
    ax2.add_artist(leg)
    gh = Line2D([], [], color=C_GRAY, lw=a_lw, linestyle=a_ls)
    leg2 = ax2.legend([gh], [r"$a$"], loc="upper right", bbox_to_anchor=leg2_anchor,
                      borderaxespad=0, fontsize=21, handlelength=2.0, handletextpad=1.3,
                      borderpad=0.35, frameon=True, fancybox=True, framealpha=1, edgecolor="black")
    leg2.get_frame().set_linewidth(1.2)
    return ax2


# ---- assemble top data ----
Mt, Mv = unzip(M_top_pts)
M0t, M0v = unzip(M0_top_pts)
at, av = unzip(a_top_pts)
d_t = times(dense_start, dense_step, len(eps_top_d))
g_t = times(grid_start, grid_step, len(eps_top))
top = dict(M_t=Mt, M=Mv, M0_t=M0t, M0=M0v,
           eps_t=eps_pre_t + d_t + g_t, eps=eps_top_pre + eps_top_d + eps_top,
           eps0_t=eps_pre_t + d_t + g_t, eps0=eps0_top_pre + eps0_top_d + eps0_top,
           m17_t=eps_pre_t + d_t + g_t, m17=m17_top_pre + m17_top_d + m17_top,
           dg_t=dodd_pre_t + d_t + g_t, dg=doddg_top_pre + doddg_top_d + doddg_top,
           dy_t=dodd_pre_t + d_t + g_t, dy=doddy_top_pre + doddy_top_d + doddy_top,
           a_t=at, a=av)
bot = dict(M_t=M_bot_t, M=M_bot, M0_t=M0_bot_t, M0=M0_bot,
           eps_t=eps_bot_t, eps=eps_bot, eps0_t=eps0_bot_t, eps0=eps0_bot,
           m17_t=m17_bot_t, m17=m17_bot, dg_t=doddg_bot_t, dg=doddg_bot,
           dy_t=doddy_bot_t, dy=doddy_bot, a_t=a_bot_t, a=a_bot)

panel(ax_t, top, 125, 3.4, (0, (3.1, 1.9)), (1.0, 0.979), (0.999, 0.678), (-0.036, 1.0496), False)
panel(ax_b, bot, 50, 4.4, (0, (2.0, 1.35)), (0.99, 0.9775), (0.99, 0.678), (-0.0353, 1.033), True)

ax_b.set_xlabel(r"$t$  [d]", fontsize=18, labelpad=2)

fig.savefig("out.png", dpi=100)
